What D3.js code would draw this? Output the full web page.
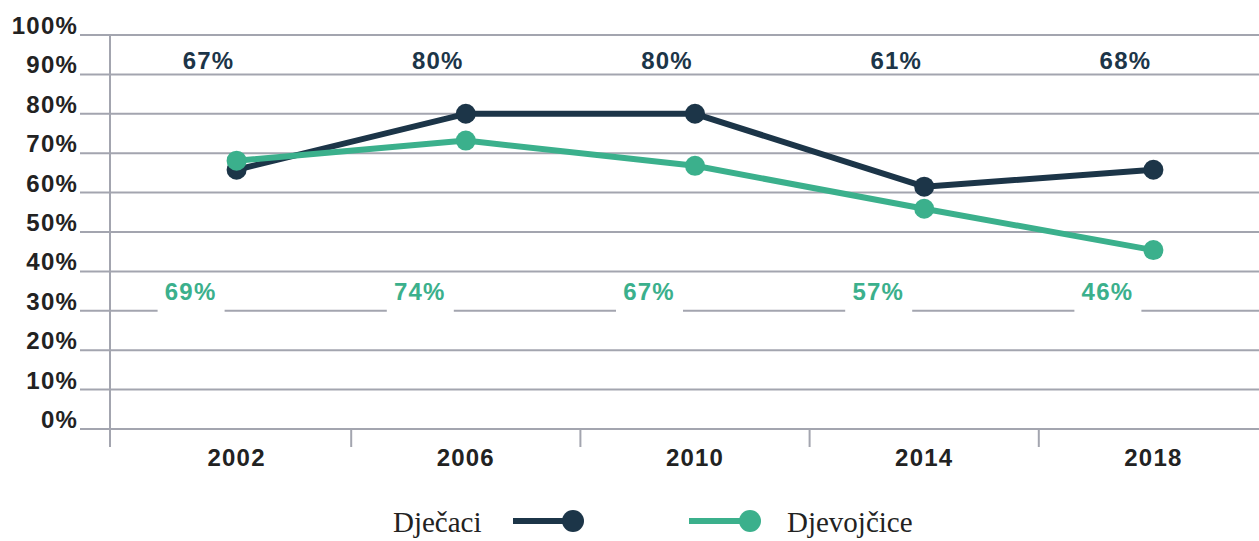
<!DOCTYPE html>
<html>
<head>
<meta charset="utf-8">
<script src="https://cdn.jsdelivr.net/npm/d3@7"></script>
<style>
  body { margin: 0; background: #fff; }
  svg text { font-family: "Liberation Sans", Arial, sans-serif; }
</style>
</head>
<body>
<div id="chart"></div>
<script>
"use strict";

// data
const years = ["2002", "2006", "2010", "2014", "2018"];
const boysValues = [65.8, 80, 80, 61.5, 65.8];   // as plotted
const girlsValues = [68.1, 73.2, 66.8, 55.9, 45.4];
const boysLabels = ["67%", "80%", "80%", "61%", "68%"];
const girlsLabels = ["69%", "74%", "67%", "57%", "46%"];
const yTicks = [0, 10, 20, 30, 40, 50, 60, 70, 80, 90, 100];
const seriesNames = ["Dječaci", "Djevojčice"];

const width = 1259, height = 541;
const navy = "#1c3548", teal = "#3bb08c", grid = "#a3a5af";
const fs = 24, ls = 1.2;

const svg = d3.select("#chart").append("svg")
    .attr("width", width)
    .attr("height", height);

// scales
const y = d3.scaleLinear().domain([0, 100]).range([429, 35]);
const x = d3.scaleBand().domain(years).range([122, 1268]);
const cx = d => x(d) + x.bandwidth() / 2;

// horizontal gridlines + y labels
const yAxis = svg.append("g");
yAxis.selectAll("line")
    .data(yTicks)
    .enter().append("line")
    .attr("x1", 80).attr("x2", width)
    .attr("y1", d => y(d)).attr("y2", d => y(d))
    .attr("stroke", grid).attr("stroke-width", 2);
yAxis.selectAll("text")
    .data(yTicks)
    .enter().append("text")
    .attr("x", 78)
    .attr("y", d => y(d) - 1)
    .attr("text-anchor", "end")
    .attr("font-size", fs)
    .attr("font-weight", "bold")
    .attr("letter-spacing", ls)
    .attr("fill", "#222")
    .text(d => d + "%");

// vertical axis line
svg.append("line")
    .attr("x1", 110).attr("x2", 110)
    .attr("y1", y(100)).attr("y2", 447)
    .attr("stroke", grid).attr("stroke-width", 2);

// x ticks at band boundaries
svg.append("g").selectAll("line")
    .data(years.slice(1))
    .enter().append("line")
    .attr("x1", d => x(d)).attr("x2", d => x(d))
    .attr("y1", y(0)).attr("y2", 447)
    .attr("stroke", grid).attr("stroke-width", 2);

svg.append("g").selectAll("text")
    .data(years)
    .enter().append("text")
    .attr("x", d => cx(d))
    .attr("y", 466)
    .attr("text-anchor", "middle")
    .attr("font-size", fs)
    .attr("font-weight", "bold")
    .attr("letter-spacing", ls)
    .attr("fill", "#222")
    .text(d => d);

// lines and points
const line = d3.line().x(d => cx(d.year)).y(d => y(d.v));

function drawSeries(values, color) {
    const pts = years.map((yr, i) => ({ year: yr, v: values[i] }));
    svg.append("path")
        .datum(pts)
        .attr("d", line)
        .attr("fill", "none")
        .attr("stroke", color)
        .attr("stroke-width", 6)
        .attr("stroke-linejoin", "round");
    svg.append("g").selectAll("circle")
        .data(pts)
        .enter().append("circle")
        .attr("cx", d => cx(d.year))
        .attr("cy", d => y(d.v))
        .attr("r", 10)
        .attr("fill", color);
}
drawSeries(boysValues, navy);
drawSeries(girlsValues, teal);

// value labels - boys on top row
svg.append("g").selectAll("text")
    .data(years)
    .enter().append("text")
    .attr("x", d => cx(d) - 28)
    .attr("y", 69)
    .attr("text-anchor", "middle")
    .attr("font-size", fs)
    .attr("font-weight", "bold")
    .attr("letter-spacing", ls)
    .attr("fill", navy)
    .text((d, i) => boysLabels[i]);

// girls labels with white box breaking the 30% line
const gl = svg.append("g").selectAll("g")
    .data(years)
    .enter().append("g")
    .attr("transform", d => `translate(${cx(d) - 46},0)`);
gl.append("rect")
    .attr("x", -33).attr("width", 67)
    .attr("y", 276).attr("height", 40)
    .attr("fill", "#fff");
gl.append("text")
    .attr("y", 300)
    .attr("text-anchor", "middle")
    .attr("font-size", fs)
    .attr("font-weight", "bold")
    .attr("letter-spacing", ls)
    .attr("fill", teal)
    .text((d, i) => girlsLabels[i]);

// legend
const serif = "'Liberation Serif', 'Times New Roman', serif";
const legend = svg.append("g");
legend.append("text")
    .attr("x", 393).attr("y", 532)
    .attr("font-size", 29)
    .attr("fill", "#222")
    .style("font-family", serif)
    .text(seriesNames[0]);
legend.append("line")
    .attr("x1", 513).attr("x2", 572)
    .attr("y1", 521).attr("y2", 521)
    .attr("stroke", navy).attr("stroke-width", 6);
legend.append("circle")
    .attr("cx", 573).attr("cy", 521).attr("r", 11)
    .attr("fill", navy);
legend.append("line")
    .attr("x1", 689).attr("x2", 750)
    .attr("y1", 521).attr("y2", 521)
    .attr("stroke", teal).attr("stroke-width", 6);
legend.append("circle")
    .attr("cx", 750).attr("cy", 521).attr("r", 11)
    .attr("fill", teal);
legend.append("text")
    .attr("x", 787).attr("y", 532)
    .attr("font-size", 29)
    .attr("fill", "#222")
    .style("font-family", serif)
    .text(seriesNames[1]);
</script>
</body>
</html>
